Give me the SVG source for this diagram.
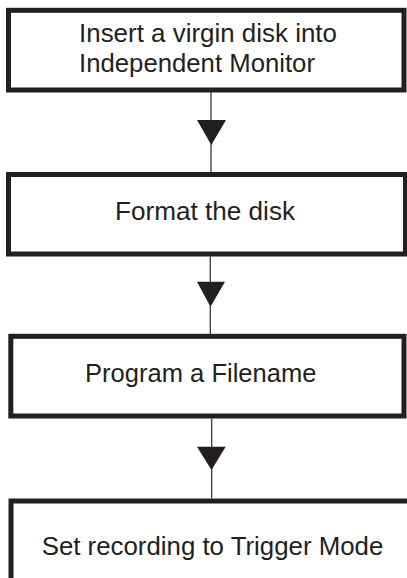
<svg xmlns="http://www.w3.org/2000/svg" width="407" height="578" viewBox="0 0 407 578">
<style>
.box{fill:#ffffff;stroke:#231f20;stroke-width:5}
.lbl{font-family:"Liberation Sans",Arial,Helvetica,sans-serif;font-size:26px;fill:#231f20}
.conn{stroke:#3a3a3a;stroke-width:1.3;fill:none}
.head{fill:#231f20;stroke:none}
</style>
<rect width="407" height="578" fill="#ffffff"/>
<g id="connectors">
<line class="conn" x1="211" y1="92" x2="211" y2="172"/>
<polygon class="head" points="197,120 226,120 211.3,145"/>
<line class="conn" x1="210.3" y1="256.5" x2="210.3" y2="334"/>
<polygon class="head" points="197,281.7 225,281.7 210.5,306.7"/>
<line class="conn" x1="211.7" y1="418.5" x2="211.7" y2="498.5"/>
<polygon class="head" points="197,446.7 225.7,446.7 211.5,470"/>
</g>
<g id="node1">
<rect class="box" x="8.5" y="10.3" width="395.5" height="79.7"/>
<text class="lbl" x="79" y="41.7" textLength="258" lengthAdjust="spacingAndGlyphs">Insert a virgin disk into</text>
<text class="lbl" x="79" y="71.7" textLength="236" lengthAdjust="spacingAndGlyphs">Independent Monitor</text>
</g>
<g id="node2">
<rect class="box" x="8.5" y="174.5" width="397" height="79.5"/>
<text class="lbl" x="115" y="220" textLength="180" lengthAdjust="spacingAndGlyphs">Format the disk</text>
</g>
<g id="node3">
<rect class="box" x="10.8" y="336.3" width="393.2" height="79.7"/>
<text class="lbl" x="85" y="381.5" textLength="231.5" lengthAdjust="spacingAndGlyphs">Program a Filename</text>
</g>
<g id="node4">
<rect class="box" x="11" y="501" width="402" height="79.5"/>
<text class="lbl" x="41.7" y="555" textLength="341.6" lengthAdjust="spacingAndGlyphs">Set recording to Trigger Mode</text>
</g>
</svg>
